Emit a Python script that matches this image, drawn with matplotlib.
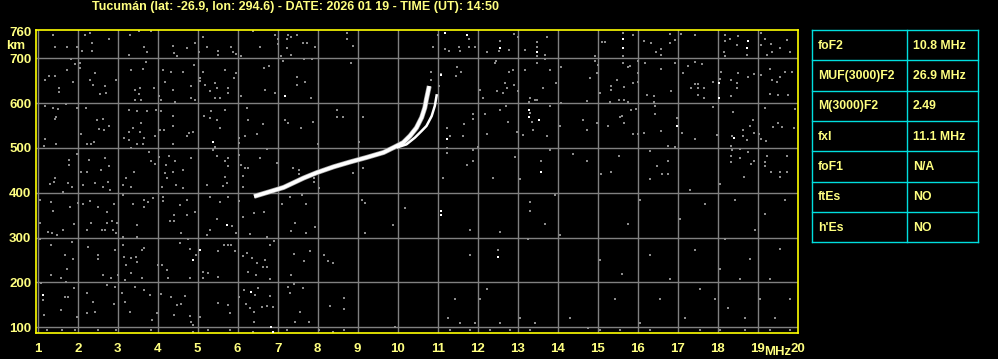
import matplotlib
matplotlib.use('Agg')
import matplotlib.pyplot as plt
import numpy as np

# ionogram header and parameter table
title_text = 'Tucumán (lat: -26.9, lon: 294.6) - DATE: 2026 01 19 - TIME (UT): 14:50'
param_names  = ['foF2', 'MUF(3000)F2', 'M(3000)F2', 'fxI', 'foF1', 'ftEs', "h'Es"]
param_values = ['10.8 MHz', '26.9 MHz', '2.49', '11.1 MHz', 'N/A', 'NO', 'NO']

freq_ticks   = list(range(1, 21))
height_ticks = [100, 200, 300, 400, 500, 600, 700]

# ordinary trace (MHz, km)
o_mhz = [6.41, 6.82, 7.15, 7.65, 7.98, 8.40, 8.82, 9.23, 9.65, 9.90, 10.14, 10.31, 10.47, 10.60, 10.68, 10.72, 10.79]
o_km  = [392, 403, 412, 433, 445, 458, 469, 479, 490, 501, 512, 527, 545, 568, 590, 609, 638]
# extraordinary trace
x_mhz = [9.98, 10.22, 10.43, 10.60, 10.72, 10.85, 10.93, 10.98]
x_km  = [501, 508, 523, 538, 549, 571, 594, 620]

# background echoes / noise speckles (MHz, km)
grey_pts = [
 (1.38,752),(2.30,757),(2.19,752),(2.78,743),(1.43,726),(1.73,726),(1.98,726),(2.12,716),(2.37,735),(2.36,716),
 (3.32,752),(3.53,761),(3.83,761),(3.67,726),(3.73,713),(3.28,707),(4.38,727),(4.40,711),(4.48,704),(4.73,722),
 (4.93,735),(5.13,748),(5.23,725),(5.52,717),(5.52,707),(5.03,714),
 (1.83,698),(2.05,689),(2.07,679),(1.93,687),(1.28,661),(1.44,661),(1.19,652),(1.73,674),(1.88,648),(2.44,668),
 (2.32,652),(2.38,641),(2.69,638),(2.55,620),(2.72,622),(1.53,633),(1.53,625),(2.97,652),(3.72,692),(3.63,675),
 (3.33,674),(3.55,633),(3.44,629),(3.53,620),(3.44,607),(3.58,607),(3.92,633),(4.03,616),(4.08,607),(4.13,674),
 (4.19,648),(4.33,670),(4.38,629),(4.63,670),(4.83,638),(4.83,611),(4.90,685),(5.05,655),(5.05,650),(5.19,641),
 (5.32,626),(5.43,644),(5.48,633),(5.44,612),(5.57,612),(5.13,670),(5.69,674),(4.94,607),(4.43,603),
 (1.18,594),(1.38,590),(1.52,587),(1.46,568),(1.43,564),(1.72,598),(1.98,590),(2.22,590),(2.48,562),(2.63,564),
 (2.67,539),(2.78,550),(2.53,542),(2.08,531),(2.42,514),(2.33,508),(2.23,509),(1.47,509),(1.18,519),(1.17,504),
 (3.28,585),(3.48,582),(3.73,582),(3.38,545),(3.58,555),(3.28,536),(3.15,523),(3.28,518),(3.48,508),(3.63,508),
 (3.67,523),(3.57,536),(3.93,527),(3.97,585),(4.09,582),(4.05,540),(4.15,540),(4.38,571),(4.38,549),(4.38,509),
 (4.78,533),(4.73,527),(4.88,536),(5.15,571),(5.30,566),(5.33,582),(5.48,562),(5.57,545),(5.68,585),
 (1.78,473),(1.78,462),(1.98,487),(2.28,473),(2.69,477),(2.78,460),(2.58,451),(2.08,447),(2.23,447),(1.43,432),
 (3.22,434),(3.33,499),(3.40,447),(3.78,492),(4.03,479),(3.84,470),(3.93,464),(4.22,462),(4.28,482),(4.43,470),
 (4.19,445),(4.38,447),(4.23,434),(4.63,451),(4.83,478),(5.44,502),(5.38,495),(5.48,482),(5.69,470),(5.69,436),
 (6.38,761),(5.83,726),(5.88,713),(5.97,710),(6.08,704),(6.57,726),(6.94,752),(7.02,742),(7.02,732),(7.27,752),
 (7.33,748),(7.48,752),(7.23,742),(7.63,735),(7.73,735),(7.94,726),(7.23,722),(7.33,707),(7.08,704),(7.13,693),
 (7.67,698),(7.86,698),(8.73,757),(8.73,742),(8.88,727),(8.83,689),(6.67,679),(6.78,682),(5.97,667),(5.92,655),
 (5.77,633),(5.77,622),(6.08,616),(6.69,629),(6.94,622),(7.48,659),(7.48,641),(7.69,648),(7.83,612),
 (6.23,590),(6.27,562),(6.63,554),(6.48,531),(6.19,527),(6.03,522),(6.03,510),(7.19,562),(7.27,556),(7.58,544),
 (7.88,559),(8.48,585),(8.48,568),(8.63,568),(9.13,568),(8.02,509),(9.03,514),(6.03,484),(5.77,477),(5.77,460),
 (6.08,462),(6.19,456),(6.27,456),(6.13,438),(6.57,477),(6.73,497),(6.98,466),(7.38,455),(7.53,451),(7.53,442),
 (8.88,444),(9.13,455),(7.92,432),
 (11.78,744),(11.02,752),(10.88,726),(11.19,720),(11.28,717),(11.53,725),(11.57,717),(11.78,726),(11.94,726),
 (12.23,715),(12.57,739),(12.53,717),(12.78,719),(12.90,754),(13.02,748),(13.19,719),(13.48,736),(13.48,726),
 (13.48,704),(13.68,707),(13.73,748),(13.69,698),(13.48,689),(12.47,695),(12.44,689),(10.83,670),(11.48,680),
 (11.58,670),(11.47,661),(11.03,638),(10.83,652),(12.07,629),(12.13,611),(12.48,626),(12.63,622),(12.69,644),
 (12.73,633),(12.78,670),(12.88,673),(12.92,641),(13.02,626),(13.19,674),(13.32,611),(13.28,603),(13.48,608),
 (13.44,607),(13.63,633),(13.82,674),(13.97,644),(14.08,681),(14.94,704),(14.94,693),(15.02,685),(14.98,667),
 (14.82,655),(15.07,622),(15.11,737),(15.19,737),(11.08,664),
 (13.32,578),(13.36,559),(13.38,540),(13.13,529),(12.98,536),(12.75,559),(12.72,594),(12.57,585),(12.19,576),
 (11.88,576),(11.88,564),(11.65,554),(11.63,527),(11.32,527),(11.23,544),(12.23,531),(13.73,527),(13.82,594),
 (14.07,549),(14.08,600),(14.63,562),(14.73,541),(14.73,604),(14.98,555),
 (11.23,499),(11.23,488),(11.88,495),(12.02,503),(11.73,462),(11.88,470),(12.94,479),(13.58,470),(13.80,495),
 (14.38,486),(14.73,470),(15.08,442),(11.13,432),(12.38,432),(13.07,431),
 (15.63,756),(15.88,752),(15.63,705),(15.63,689),(15.80,682),(16.15,739),(16.33,733),(16.47,713),(16.58,720),
 (16.58,707),(16.82,754),(16.94,741),(16.82,735),(17.08,754),(17.44,752),(18.19,752),(18.19,739),(18.30,742),
 (18.48,730),(18.52,750),(18.73,707),(19.08,757),(19.19,744),(19.08,730),(19.33,732),(19.36,713),(19.23,707),
 (19.57,722),(19.73,741),(19.80,713),(18.17,713),(18.19,704),
 (16.02,693),(16.02,667),(16.02,646),(16.19,689),(15.88,644),(15.67,635),(15.33,638),(15.33,629),(15.48,652),
 (15.77,681),(16.58,675),(16.94,689),(17.27,682),(17.44,692),(17.61,687),(17.13,667),(17.44,642),(17.52,642),
 (17.33,633),(17.52,633),(17.67,633),(17.52,618),(17.67,612),(17.88,646),(18.05,653),(18.08,670),(18.33,652),
 (18.48,644),(18.52,667),(18.48,633),(18.77,659),(18.90,666),(19.08,662),(19.30,677),(19.36,652),(19.48,646),
 (19.57,659),(19.69,670),(19.86,670),(19.32,620),(19.50,618),(19.77,618),(16.23,618),(16.42,616),(16.42,603),
 (16.83,626),(15.53,607),(15.67,607),(15.77,603),(15.30,603),(18.33,616),
 (15.83,585),(15.97,587),(15.55,569),(15.61,572),(15.67,555),(15.27,549),(15.88,531),(16.02,531),(16.17,533),
 (16.44,594),(16.44,576),(16.58,538),(16.98,566),(17.11,533),(17.44,521),(17.88,591),(17.98,529),(18.38,580),
 (18.36,527),(18.63,540),(18.63,527),(18.73,518),(18.88,562),(18.82,549),(19.03,531),(19.19,590),(19.38,547),
 (19.52,556),(19.61,547),(19.94,587),(19.90,544),(19.08,519),(19.22,516),(18.90,533),
 (15.53,482),(16.32,494),(16.77,504),(16.94,503),(16.48,460),(16.77,470),(16.61,442),(16.77,442),(16.32,430),
 (15.33,447),(18.33,504),(18.36,496),(18.57,498),(18.33,468),(18.33,481),(18.57,477),(18.77,490),(18.90,470),
 (18.83,465),(19.19,468),(19.23,482),(19.33,447),(19.57,447),(19.73,447),(19.57,436),(18.67,436),(19.73,482),
 (19.19,459),
 (1.32,420),(1.42,425),(1.63,402),(1.77,421),(1.86,414),(2.13,417),(2.44,421),(2.63,412),(2.77,423),(2.82,406),
 (3.13,417),(3.33,414),(4.11,414),(4.47,417),(4.63,410),(5.23,417),(5.63,415),(5.73,421),(6.13,414),(7.42,420),
 (7.92,425),(8.03,410),
 (1.07,384),(1.33,380),(1.07,333),(1.38,360),(1.27,313),(1.36,310),(1.48,306),(1.63,318),(1.82,369),(1.92,330),
 (2.02,378),(2.13,375),(2.32,382),(2.52,369),(2.23,318),(2.33,332),(2.61,317),(2.69,317),(2.73,332),(2.86,338),
 (2.98,333),(2.88,318),(2.97,310),(2.73,358),(2.90,376),(3.13,395),(3.38,376),(3.65,385),(3.77,380),(3.88,388),
 (3.67,368),(3.48,328),(3.48,302),(3.13,302),(4.13,391),(4.13,382),(4.30,338),(4.42,338),(4.42,350),(4.55,373),
 (4.73,385),(4.73,350),(4.94,358),(4.58,311),(4.77,296),(5.57,380),(5.32,391),(5.77,391),(5.48,341),(5.86,326),
 (5.97,311),(5.32,318),(5.23,306),(6.03,382),(6.13,347),(6.42,354),(6.67,358),(6.32,308),(6.73,301),(7.11,376),
 (7.30,391),(7.61,395),(7.72,376),(7.44,333),(7.33,315),(7.72,311),(7.94,324),(9.11,385),(9.19,378),(9.19,311),
 (9.88,328),(10.19,365),
 (1.07,298),(1.33,284),(1.86,291),(1.69,261),(1.88,252),(1.73,231),(1.33,217),(1.58,211),(1.72,202),(2.27,280),
 (2.52,261),(2.52,252),(2.63,217),(2.83,209),(2.94,272),(3.13,284),(3.17,257),(3.33,254),(3.47,257),(3.48,246),
 (3.61,272),(3.67,276),(3.22,239),(3.33,222),(3.02,217),(3.19,205),(3.61,209),(4.02,239),(4.11,239),(4.23,228),
 (4.25,209),(4.57,287),(4.80,274),(4.97,261),(4.80,209),(5.13,224),(5.13,209),(5.27,222),(5.52,271),(5.65,284),
 (5.77,284),(5.84,284),(5.94,271),(5.52,213),(6.13,259),(6.23,265),(6.36,254),(6.48,243),(6.27,224),(6.47,217),
 (6.63,235),(6.73,235),(6.69,249),(6.80,284),(6.90,293),(6.82,207),(7.42,263),(7.65,248),(7.80,271),(7.33,217),
 (8.17,261),(8.27,248),(8.38,244),
 (1.08,198),(1.13,161),(1.15,127),(1.69,168),(1.77,168),(1.58,139),(1.92,187),(1.98,124),(2.23,176),(2.23,131),
 (2.38,157),(2.44,135),(2.73,194),(2.94,190),(2.92,152),(3.11,176),(3.19,157),(3.32,135),(3.44,190),(3.65,183),
 (3.82,172),(3.86,116),(3.98,131),(4.08,174),(4.33,168),(4.42,127),(4.48,150),(4.58,153),(4.69,170),(4.80,125),
 (4.83,112),(4.88,105),(5.07,122),(5.52,155),(5.75,150),(5.82,131),(6.03,168),(6.17,183),(6.44,172),(6.52,187),
 (6.22,152),(6.30,142),(6.42,135),(6.61,145),(6.73,147),(6.88,145),(6.82,170),(6.40,112),(7.27,190),(7.32,177),
 (7.40,197),(7.63,187),(7.44,112),(7.57,135),(7.78,112),(8.32,147),(8.67,165),(8.67,140),(9.94,100),
 (1.23,93),(1.61,93),(1.94,94),(2.52,94),(2.97,93),(3.83,93),(4.88,90),(5.27,95),(5.82,94),(6.38,90),(7.23,93),
 (8.03,94),(8.38,90),(8.67,94),
 (12.52,273),(12.57,313),(13.27,296),(13.30,380),(13.30,360),(13.68,330),(13.93,395),(14.06,305),(11.80,317),
 (11.80,262),(12.24,185),(12.06,164),(11.43,164),(11.26,120),(11.56,109),(11.93,109),(12.56,109),(13.06,120),
 (13.43,109),(14.31,120),(14.76,98),(15.06,250),(15.43,164),(15.61,219),(15.76,330),(16.06,385),(16.31,262),
 (16.56,164),(16.81,208),(17.06,342),(17.18,120),(17.43,273),(17.56,186),(17.68,375),(17.93,164),(18.06,230),
 (18.18,296),(18.26,142),(18.43,385),(18.56,208),(18.68,120),(18.81,252),(18.93,318),(19.06,164),(19.18,352),
 (19.31,208),(19.43,120),(19.56,274),(19.68,385),(19.81,164),(18.06,420),(17.31,407),(16.06,109),
 (11.30,93),(11.80,94),(12.30,93),(12.80,94),(13.30,93),(15.06,94),(15.56,93),(16.31,94),(17.56,93),(18.06,94),
 (18.68,93),(19.31,94),(19.81,93),
]
white_pts = [
 (5.38,513),(7.19,616),(11.19,757),(11.73,752),(12.57,722),(13.48,713),(11.08,663),(13.28,585),(13.28,568),
 (13.53,562),(11.23,519),(13.58,447),(15.63,742),(15.63,722),(18.77,739),(18.73,722),(18.03,644),(18.03,611),
 (16.98,550),(18.42,522),(5.73,328),(5.07,272),(4.88,249),(1.13,172),(6.33,179),(6.83,100),(6.88,90),
 (11.09,360),(11.09,350),(12.52,257),
]

text_col  = '#ffff80'
frame_col = '#ffff00'
grid_col  = '#808080'
table_col = '#00dede'

fig = plt.figure(figsize=(9.98, 3.59), dpi=100, facecolor='black')
plt.rcParams['font.family'] = ['Liberation Sans', 'DejaVu Sans']

ax = fig.add_axes([35.5/998, 26/359, 762.5/998, 303.5/359])
ax.set_facecolor('black')
ax.set_xlim(0.945, 20.01)
ax.set_ylim(87.3, 764.2)

for f in freq_ticks[:-1]:
    ax.axvline(f, color=grid_col, lw=1.0, zorder=1)
for h in height_ticks:
    ax.axhline(h, color=grid_col, lw=1.0, zorder=1)

# speckles drawn as crisp pixel blocks
gf, gh = zip(*grey_pts)
ax.plot(gf, gh, 's', color='#8c8c8c', ms=1.6, mew=0, antialiased=False, zorder=2)
wf, wh = zip(*white_pts)
ax.plot(wf, wh, 's', color='white', ms=1.6, mew=0, antialiased=False, zorder=3)

ax.plot(o_mhz, o_km, color='#a0a0a0', lw=3.6, solid_capstyle='butt', zorder=3)
ax.plot(o_mhz, o_km, color='white', lw=2.6, solid_capstyle='butt', zorder=4)
ax.plot(x_mhz, x_km, color='white', lw=1.8, solid_capstyle='butt', zorder=4)

for s in ax.spines.values():
    s.set_color(frame_col)
    s.set_linewidth(1.2)
ax.set_xticks(freq_ticks)
ax.set_xticklabels([str(f) for f in freq_ticks])
ax.set_yticks(height_ticks + [760])
ax.set_yticklabels([str(h) for h in height_ticks] + ['760'])
ax.tick_params(length=0, colors=text_col, labelsize=9.5)
ax.tick_params(axis='x', pad=7)
ax.tick_params(axis='y', pad=3)
for lab in ax.get_xticklabels() + ax.get_yticklabels():
    lab.set_fontweight('bold')

fig.text(6/998, 1 - 46/359, 'km', color=text_col, fontsize=9.5, fontweight='bold',
         ha='left', va='center')
fig.text(791/998, 1 - 352/359, 'MHz', color=text_col, fontsize=9.5, fontweight='bold',
         ha='right', va='center')
fig.text(295/998, 1 - 7/359, title_text, color=text_col, fontsize=9, fontweight='bold',
         ha='center', va='center')

# parameter table
tax = fig.add_axes([812/998, (359 - 242.3)/359, 165.7/998, 212.3/359])
tax.set_xlim(0, 1)
tax.set_ylim(len(param_names), 0)
tax.axis('off')
for i in range(len(param_names) + 1):
    tax.plot([0, 1], [i, i], color=table_col, lw=1.0, clip_on=False)
for xx in [0, 0.575, 1]:
    tax.plot([xx, xx], [0, len(param_names)], color=table_col, lw=1.0, clip_on=False)
for i, (n, v) in enumerate(zip(param_names, param_values)):
    tax.text(0.034, i + 0.52, n, color=text_col, fontsize=8.8, fontweight='bold', va='center')
    tax.text(0.608, i + 0.52, v, color=text_col, fontsize=8.8, fontweight='bold', va='center')

fig.savefig('out.png', dpi=100, facecolor='black')
